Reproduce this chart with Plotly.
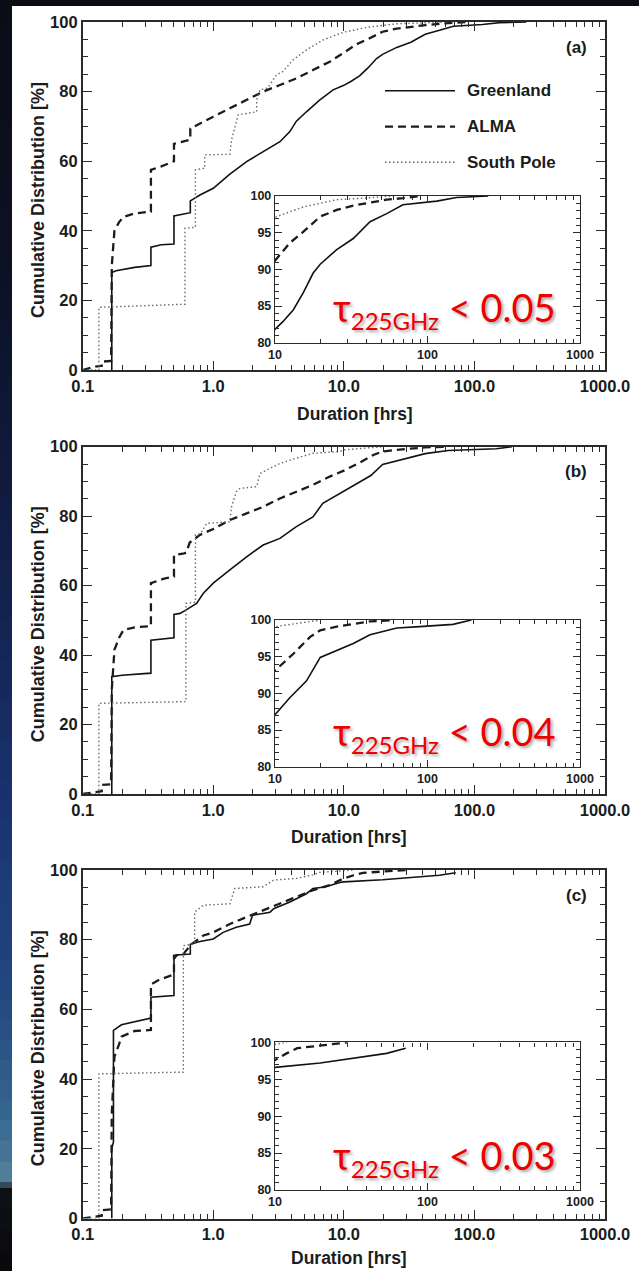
import plotly.graph_objects as go

W, H = 639, 1271

# ---------------- data: cumulative distribution of period durations ----------------
# (a)  tau225 < 0.05
gl_a_hrs = [0.167, 0.167, 0.18, 0.25, 0.333, 0.333, 0.4, 0.5, 0.5, 0.6, 0.667, 0.667, 0.79, 1.0,
            1.34, 1.8, 2.41, 3.24, 3.86, 4.33, 5.17, 6.55, 8.28, 10.0, 11.3, 13.2, 15.3, 17.8,
            19.8, 25.4, 32.6, 42, 54, 69, 115, 155, 250]
gl_a_pct = [0, 28, 28.5, 29.5, 30, 35.3, 36, 36.2, 44.3, 44.8, 45.2, 48.6, 50.3, 52.2,
            56.3, 59.9, 62.7, 65.6, 68.5, 71.5, 74.2, 77.6, 80.5, 81.8, 82.9, 84.5, 86.8, 89.5,
            90.7, 92.7, 94.2, 96.5, 97.6, 98.8, 99.3, 99.8, 100]
al_a_hrs = [0.1, 0.125, 0.14, 0.14, 0.165, 0.167, 0.175, 0.19, 0.205, 0.25, 0.333, 0.333, 0.40,
            0.466, 0.5, 0.5, 0.6, 0.667, 0.667, 0.79, 1.0, 1.34, 1.8, 2.41, 3.24, 4.33, 5.8, 7.8,
            10.3, 12.5, 15.3, 19.8, 25.4, 32.6, 42, 54, 69, 90]
al_a_pct = [0, 1, 1.2, 2.4, 2.6, 30, 40, 42.5, 44, 45, 45.5, 57.5, 58.5,
            59.4, 60, 65, 65.8, 66.2, 69.4, 70.9, 72.8, 75.2, 77.6, 80, 81.9, 83.8, 86.2, 88.6,
            91.5, 93.6, 95.1, 97.2, 98.1, 98.7, 99.1, 99.5, 99.7, 100]
sp_a_hrs = [0.1, 0.133, 0.133, 0.3, 0.607, 0.607, 0.73, 0.73, 0.86, 0.86, 1.34, 1.38, 1.55, 2.15,
            2.15, 2.28, 2.6, 3.05, 3.4, 4.08, 5.17, 6.9, 9.3, 10, 15.3, 19.8, 25.4, 38, 60]
sp_a_pct = [0, 0, 18, 18.5, 18.9, 40.7, 41, 57.5, 58, 61.8, 62, 66.1, 73.3, 74.2,
            77.6, 80.5, 81, 84.8, 85.7, 89.1, 92, 94.8, 96.8, 97.1, 98.5, 99, 99.5, 99.7, 100]

# (b)  tau225 < 0.04
gl_b_hrs = [0.167, 0.167, 0.2, 0.333, 0.333, 0.4, 0.5, 0.5, 0.556, 0.62, 0.745, 0.84, 1.0, 1.34,
            1.8, 2.41, 3.24, 4.33, 5.8, 6.9, 9.3, 10, 12.5, 16.1, 19.8, 25.4, 32.6, 42, 62.9,
            89, 147, 194]
gl_b_pct = [0, 33.8, 34.2, 34.8, 44.3, 44.6, 45, 51.7, 52, 53, 54.9, 57.8, 60.7, 64.5,
            68.3, 71.7, 73.6, 77, 79.8, 83.7, 86.5, 87.1, 89.4, 91.7, 94.9, 95.9, 96.8, 98, 98.9,
            99.1, 99.4, 100]
al_b_hrs = [0.1, 0.125, 0.14, 0.14, 0.165, 0.167, 0.175, 0.19, 0.205, 0.25, 0.333, 0.333, 0.42,
            0.5, 0.5, 0.6, 0.62, 0.66, 0.79, 1.0, 1.34, 1.8, 2.41, 3.24, 4.33, 5.8, 7.8, 10,
            13.2, 17, 19.8, 25.4, 42, 60]
al_b_pct = [0, 0.5, 0.8, 2.6, 2.8, 30, 41.5, 45, 47.2, 48, 48.3, 60.7, 62,
            62.6, 68.8, 69.3, 69.5, 72.4, 74.6, 76.3, 78.9, 80.8, 82.7, 85.1, 87, 89, 91.4, 93.1,
            95.4, 97.7, 98.6, 99.1, 99.8, 100]
sp_b_hrs = [0.1, 0.133, 0.133, 0.3, 0.617, 0.617, 0.73, 0.73, 0.8, 0.89, 1.34, 1.38, 1.5, 1.6,
            2.15, 2.28, 2.72, 3.24, 4.33, 5.8, 9.3, 10, 20]
sp_b_pct = [0, 0, 26.1, 26.3, 26.6, 54.9, 55.2, 74.6, 75, 77.9, 78.4, 82.7, 87, 88,
            88.5, 92.3, 93.7, 95.2, 96.7, 98.1, 98.6, 99.1, 100]

# (c)  tau225 < 0.03
gl_c_hrs = [0.167, 0.167, 0.172, 0.172, 0.198, 0.333, 0.333, 0.5, 0.5, 0.53, 0.667, 0.667, 0.79,
            1.0, 1.19, 1.5, 1.9, 2.0, 2.72, 2.9, 3.86, 5.17, 5.8, 7.3, 9.3, 10, 19.8, 32.6, 54, 72]
gl_c_pct = [0, 20, 22, 54, 55.6, 57.5, 63.5, 64, 74.4, 75.6, 75.9, 78.7, 79.5,
            80.2, 82.1, 83.6, 84.5, 87, 87.9, 88.9, 90.8, 93.2, 94.7, 95.2, 96.4, 96.6, 97.2,
            97.8, 98.5, 99.2]
al_c_hrs = [0.1, 0.125, 0.14, 0.14, 0.165, 0.167, 0.175, 0.19, 0.198, 0.25, 0.333, 0.333, 0.39,
            0.466, 0.5, 0.5, 0.59, 0.68, 0.84, 1.0, 1.34, 1.8, 2.41, 3.24, 4.33, 5.8, 7.8, 10,
            11.9, 14, 18.8, 30]
al_c_pct = [0, 0.5, 0.8, 2.4, 2.6, 30, 46.4, 50, 52.2, 53.8, 54.1, 67.2, 68.6,
            69.6, 70, 75.4, 75.9, 78.7, 81.2, 82.1, 84.5, 86.5, 88.4, 90.3, 92.3, 94.2, 95.7, 97.6,
            98.5, 99.2, 99.5, 100]
sp_c_hrs = [0.1, 0.133, 0.133, 0.3, 0.59, 0.59, 0.72, 0.72, 0.84, 1.34, 1.46, 2.41, 2.9, 4.33,
            5.8, 6.5, 9.3, 12]
sp_c_pct = [0, 0, 41.5, 41.8, 42, 78.3, 78.8, 87.9, 89.9, 90.3, 94.7, 95.2, 97.1, 97.6,
            98.6, 99.3, 99.6, 100]

panel_tags = ["(a)", "(b)", "(c)"]
tau_limits = ["0.05", "0.04", "0.03"]
site_names = ["Greenland", "ALMA", "South Pole"]
main_xticks = [0.1, 1, 10, 100, 1000]
main_xtext = ["0.1", "1.0", "10.0", "100.0", "1000.0"]
inset_xticks = [10, 100, 1000]
inset_xtext = ["10", "100", "1000"]

panels = [
    [(gl_a_hrs, gl_a_pct), (al_a_hrs, al_a_pct), (sp_a_hrs, sp_a_pct)],
    [(gl_b_hrs, gl_b_pct), (al_b_hrs, al_b_pct), (sp_b_hrs, sp_b_pct)],
    [(gl_c_hrs, gl_c_pct), (al_c_hrs, al_c_pct), (sp_c_hrs, sp_c_pct)],
]

# ---------------- geometry helpers (pixel -> paper) ----------------
def fx(p):
    return p / W


def fy(p):
    return 1 - p / H


FONT = "Liberation Sans, Arial, sans-serif"
INK = "#1c1c1c"
AXIS = "#2a2a2a"

line_styles = [
    dict(color="#121212", width=1.6),
    dict(color="#1c1c1c", width=2.3, dash="8px,5px"),
    dict(color="#6a6a6a", width=1.4, dash="1.5px,2.5px"),
]

# plot-area frames in pixels: (top, bottom)
main_rows = [(22, 370), (446.7, 794), (870, 1218.5)]
inset_rows = [(196, 342.7), (620, 766.7), (1042.3, 1190)]
xtitle_pos = [(355, 414), (349, 837), (349, 1258)]
MAIN_L, MAIN_R = 82.7, 605
INS_L, INS_R = 275, 580

minor_main = [m * 10 ** e for e in range(-1, 3) for m in range(2, 10)]
minor_inset = [m * 10 ** e for e in range(1, 3) for m in range(2, 10)]

fig = go.Figure()
layout = dict(
    template="none",
    width=W, height=H,
    autosize=False,
    margin=dict(l=0, r=0, t=0, b=0, pad=0),
    paper_bgcolor="#0b0d16",
    plot_bgcolor="white",
    showlegend=False,
    font=dict(family=FONT, color=INK),
)

shapes = []
annotations = []

# dark backdrop with a soft blue gradient along the left edge
stops = [(0, (11, 13, 22)), (250, (12, 16, 34)), (520, (16, 28, 66)), (800, (25, 50, 110)),
         (1000, (35, 72, 128)), (1120, (55, 103, 143)), (1182, (85, 130, 155)),
         (1188, (14, 18, 24)), (1271, (8, 9, 12))]
for (y0, c0), (y1, c1) in zip(stops[:-1], stops[1:]):
    n = max(1, int((y1 - y0) / 20))
    for k in range(n):
        t = (k + 0.5) / n
        col = tuple(int(round(c0[i] + (c1[i] - c0[i]) * t)) for i in range(3))
        ya = y0 + (y1 - y0) * k / n
        yb = y0 + (y1 - y0) * (k + 1) / n
        shapes.append(dict(type="rect", xref="paper", yref="paper", layer="below",
                           x0=0, x1=fx(12.5), y0=fy(yb + 0.5), y1=fy(ya),
                           fillcolor="rgb(%d,%d,%d)" % col, line=dict(width=0)))
# white sheet carrying the figure
shapes.append(dict(type="rect", xref="paper", yref="paper", layer="below",
                   x0=fx(12), x1=1, y0=0, y1=fy(6), fillcolor="white", line=dict(width=0)))

for i, (rows, irow) in enumerate(zip(main_rows, inset_rows)):
    n_main = 2 * i + 1
    n_ins = 2 * i + 2
    xm, ym = "x%d" % n_main, "y%d" % n_main
    xi, yi = "x%d" % n_ins, "y%d" % n_ins
    if n_main == 1:
        xm, ym = "x", "y"
    kx_m = "xaxis" if n_main == 1 else "xaxis%d" % n_main
    ky_m = "yaxis" if n_main == 1 else "yaxis%d" % n_main
    kx_i = "xaxis%d" % n_ins
    ky_i = "yaxis%d" % n_ins

    top, bot = rows
    itop, ibot = irow
    tick_main = dict(family=FONT, size=16.5, color=INK, weight="bold")
    tick_ins = dict(family=FONT, size=12.5, color=INK, weight="bold")
    common = dict(showline=True, linecolor=AXIS, mirror="ticks", showgrid=False,
                  zeroline=False, automargin=False, tickcolor=AXIS, ticks="inside")

    layout[kx_m] = dict(domain=[fx(MAIN_L), fx(MAIN_R)], anchor=ym, type="log", range=[-1, 3],
                        tickvals=main_xticks, ticktext=main_xtext, ticklen=9,
                        tickwidth=1.3, linewidth=1.6, tickfont=tick_main,
                        minor=dict(tickvals=minor_main, ticks="inside", ticklen=5,
                                   tickwidth=1.1, tickcolor=AXIS, showgrid=False), **common)
    layout[ky_m] = dict(domain=[fy(bot), fy(top)], anchor=xm, range=[0, 100],
                        tickvals=[0, 20, 40, 60, 80, 100], ticklen=9,
                        tickwidth=1.3, linewidth=1.6, tickfont=tick_main,
                        minor=dict(dtick=5, ticks="inside", ticklen=5, tickwidth=1.1,
                                   tickcolor=AXIS, showgrid=False), **common)
    layout[kx_i] = dict(domain=[fx(INS_L), fx(INS_R)], anchor=yi, type="log", range=[1, 3],
                        tickvals=inset_xticks, ticktext=inset_xtext, ticklen=7,
                        tickwidth=1.1, linewidth=1.4, tickfont=tick_ins,
                        minor=dict(tickvals=minor_inset, ticks="inside", ticklen=4,
                                   tickwidth=1, tickcolor=AXIS, showgrid=False), **common)
    layout[ky_i] = dict(domain=[fy(ibot), fy(itop)], anchor=xi, range=[80, 100],
                        tickvals=[80, 85, 90, 95, 100], ticklen=7,
                        tickwidth=1.1, linewidth=1.4, tickfont=tick_ins,
                        minor=dict(dtick=1, ticks="inside", ticklen=3.5, tickwidth=1,
                                   tickcolor=AXIS, showgrid=False), **common)

    for (hrs, pct), style in zip(panels[i], line_styles):
        fig.add_trace(go.Scatter(x=hrs, y=pct, mode="lines", line=style, xaxis=xm, yaxis=ym,
                                 hoverinfo="skip", showlegend=False))
    for (hrs, pct), style in zip(panels[i], line_styles):
        fig.add_trace(go.Scatter(x=hrs, y=pct, mode="lines", line=style, xaxis=xi, yaxis=yi,
                                 hoverinfo="skip", showlegend=False))

    # axis titles
    annotations.append(dict(xref="paper", yref="paper", x=fx(38), y=fy((top + bot) / 2 + 4),
                            text="Cumulative Distribution [%]", textangle=-90, showarrow=False,
                            font=dict(family=FONT, size=18, color=INK, weight="bold"),
                            xanchor="center", yanchor="middle"))
    tx, ty = xtitle_pos[i]
    annotations.append(dict(xref="paper", yref="paper", x=fx(tx), y=fy(ty),
                            text="Duration [hrs]", showarrow=False,
                            font=dict(family=FONT, size=17.5, color=INK, weight="bold"),
                            xanchor="center", yanchor="middle"))
    # panel tag
    annotations.append(dict(xref="paper", yref="paper", x=fx(576), y=fy(top + 25),
                            text=panel_tags[i], showarrow=False,
                            font=dict(family=FONT, size=17, color=INK, weight="bold"),
                            xanchor="center", yanchor="middle"))
    # opacity condition label
    annotations.append(dict(xref="paper", yref="paper", x=fx(331), y=fy(ibot - 33),
                            text="τ<sub><span style='font-size:24px'>225GHz</span></sub> &lt; "
                                 + tau_limits[i],
                            showarrow=False, xanchor="left", yanchor="middle",
                            font=dict(family="Lato, Noto Sans, sans-serif", size=38,
                                      color="#ee0000",
                                      shadow="2px 2px 3px rgba(0,0,0,0.35)")))

# legend for panel (a)
for k, (name, style) in enumerate(zip(site_names, line_styles)):
    yc = [90.7, 126.7, 162.3][k]
    shapes.append(dict(type="line", xref="paper", yref="paper", x0=fx(385), x1=fx(455),
                       y0=fy(yc), y1=fy(yc), line=style))
    annotations.append(dict(xref="paper", yref="paper", x=fx(465), y=fy(yc), text=name,
                            showarrow=False, xanchor="left", yanchor="middle",
                            font=dict(family=FONT, size=17, color=INK, weight="bold")))

layout["shapes"] = shapes
layout["annotations"] = annotations
fig.update_layout(**layout)
fig.write_html("out.html")
